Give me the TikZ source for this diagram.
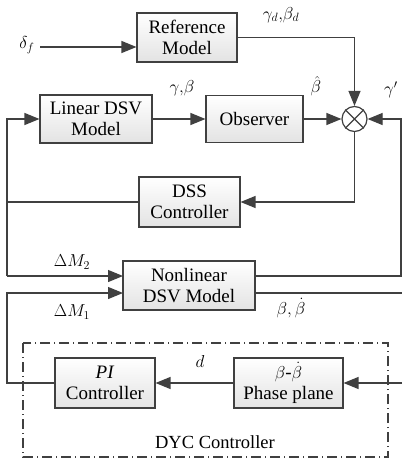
\documentclass[tikz,border=0pt]{standalone}
\usepackage{fontspec}
\setmainfont{Liberation Serif}
\usetikzlibrary{arrows.meta}
\definecolor{ln}{HTML}{404040}
\tikzset{
  blk/.style={draw=ln, line width=1.1pt, top color=white, bottom color=gray!22, align=center, inner sep=0pt,
    font=\fontsize{19}{21.5}\selectfont},
  wire/.style={draw=ln, line width=1.2pt},
  arr/.style={wire, -{Triangle[length=15pt,width=12pt]}},
  lbl/.style={font=\fontsize{18.5}{21}\selectfont, inner sep=0pt}
}
\begin{document}
\begin{tikzpicture}[x=1pt,y=-1pt]
\useasboundingbox (0,0) rectangle (402,460);
% boxes
\node[blk, minimum width=100pt, minimum height=49pt] (ref) at (187,37.5) {Reference\\Model};
\node[blk, minimum width=112pt, minimum height=48pt] (lin) at (96,119) {Linear DSV\\Model};
\node[blk, minimum width=97pt, minimum height=47pt] (obs) at (254.5,119) {Observer};
\node[draw=ln, line width=1.2pt, circle, minimum size=25pt, inner sep=0pt] (sum) at (354.5,119) {};
\draw[ln, line width=1.1pt] (sum.north west) -- (sum.south east) (sum.north east) -- (sum.south west);
\node[blk, minimum width=101pt, minimum height=50pt] (dss) at (189.5,202) {DSS\\Controller};
\node[blk, minimum width=132pt, minimum height=49pt] (nl) at (189,285.5) {Nonlinear\\DSV Model};
\node[blk, minimum width=100pt, minimum height=50pt] (pi) at (105,383) {\textit{PI}\\Controller};
\node[blk, minimum width=109pt, minimum height=50pt] (pp) at (288.5,383) {$\beta$-$\dot{\beta}$\\Phase plane};
% dyc frame
\draw[ln, line width=1.1pt, dash pattern=on 10pt off 4pt on 1pt off 4pt] (23,343) rectangle (388,457);
\node[lbl] (dyc) at (215,442) {DYC Controller};
% coordinates
\coordinate (din) at (40,47);
\coordinate (j1) at (7,276);
\coordinate (j2) at (7,202);
\coordinate (nlin2) at (123,276);
\coordinate (nlin1) at (123,293);
\coordinate (nlo2) at (255,276);
\coordinate (nlo1) at (255,293);
\coordinate (rtop) at (401,276);
\coordinate (edge1) at (402,293);
\coordinate (edge2) at (402,383);
% wires
\draw[arr] (din) -- (din -| ref.west);
\draw[arr] (ref.east |- 0,37.5) -| (sum.north);
\draw[arr] (lin.east) -- (obs.west);
\draw[arr] (obs.east) -- (sum.west);
\draw[arr] (nlo2) -- (rtop) |- (sum.east);
\draw[arr] (sum.south) |- (dss.east);
\draw[wire] (dss.west) -- (j2);
\draw[arr] (j1) |- (lin.west);
\draw[arr] (j1) -- (nlin2);
\draw[arr] (pi.west) -| (7,293) -- (nlin1);
\draw[wire] (nlo1) -- (edge1);
\draw[arr] (edge2) -- (pp.east);
\draw[arr] (pp.west) -- (pi.east);
% labels
\node[lbl] (l1) at (27,45) {$\delta_f$};
\node[lbl] (l2) at (281,15) {$\gamma_d,\!\beta_d$};
\node[lbl] (l3) at (182,88) {$\gamma,\!\beta$};
\node[lbl] (l4) at (316,86) {$\hat{\beta}$};
\node[lbl] (l5) at (391,90) {$\gamma'$};
\node[lbl] (l6) at (72,262) {$\Delta M_2$};
\node[lbl] (l7) at (72,312) {$\Delta M_1$};
\node[lbl] (l8) at (291,308) {$\beta,\dot{\beta}$};
\node[lbl] (l9) at (200,361) {$d$};
\end{tikzpicture}
\end{document}
